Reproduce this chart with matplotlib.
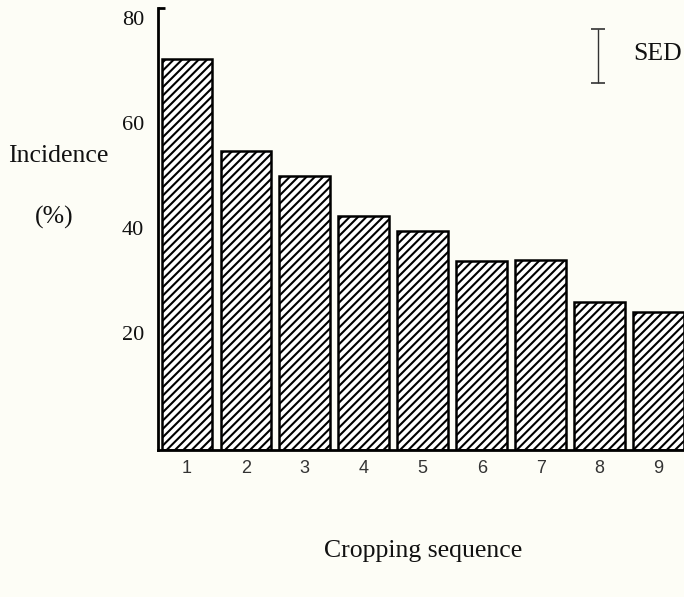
import matplotlib
matplotlib.use("Agg")
import matplotlib.pyplot as plt

# Data
sequences = ["1", "2", "3", "4", "5", "6", "7", "8", "9"]
incidence = [72.2, 54.7, 49.9, 42.3, 39.5, 33.7, 33.9, 25.9, 24.0]
sed_value = 10.3
y_ticks = [20, 40, 60, 80]

BG = "#fdfdf6"
plt.rcParams["hatch.linewidth"] = 1.5
plt.rcParams["hatch.color"] = "black"

fig = plt.figure(figsize=(6.84, 5.97), dpi=100, facecolor=BG)
ax = fig.add_axes([158 / 684, (597 - 450) / 597, (684 - 158) / 684, (450 - 8) / 597])
ax.set_facecolor(BG)

y_lo, y_hi = -2.3, 81.9
xpos = list(range(1, len(sequences) + 1))
ax.bar(xpos, [v - y_lo for v in incidence], bottom=y_lo, width=0.86,
       color="white", edgecolor="black", linewidth=1.8, hatch="////")

ax.set_xlim(0.51, 9.43)
ax.set_ylim(y_lo, y_hi)

for s in ["top", "right"]:
    ax.spines[s].set_visible(False)
ax.spines["left"].set_linewidth(2.0)
ax.spines["bottom"].set_linewidth(2.0)

ax.set_xticks(xpos)
ax.set_xticklabels(sequences, fontfamily="Liberation Sans", fontsize=13, color="#333333")
ax.tick_params(axis="x", length=0, pad=7)

ax.set_yticks(y_ticks)
ax.set_yticklabels([str(t) for t in y_ticks], fontfamily="Liberation Serif", fontsize=16, color="#111111")
ax.tick_params(axis="y", length=0, pad=10)
ax.set_yticks([y_hi], minor=True)
ax.tick_params(axis="y", which="minor", length=5, width=2, direction="in")

# SED bar
ax.errorbar([7.97], [72.75], yerr=[sed_value / 2], fmt="none", ecolor="#333333",
            elinewidth=1.0, capsize=5, capthick=1.2)
ax.text(8.565, 73.1, "SED", fontfamily="Liberation Serif", fontsize=18.5,
        ha="left", va="center", color="#111111")

fig.text(8 / 684, 1 - 156 / 597, "Incidence", fontfamily="Liberation Serif", fontsize=18.5,
         ha="left", va="center", color="#111111")
fig.text(54 / 684, 1 - 217 / 597, "(%)", fontfamily="Liberation Serif", fontsize=18.5,
         ha="center", va="center", color="#111111")
fig.text(423 / 684, 1 - 551 / 597, "Cropping sequence", fontfamily="Liberation Serif", fontsize=18.5,
         ha="center", va="center", color="#111111")

fig.savefig("out.png", dpi=100, facecolor=BG)
